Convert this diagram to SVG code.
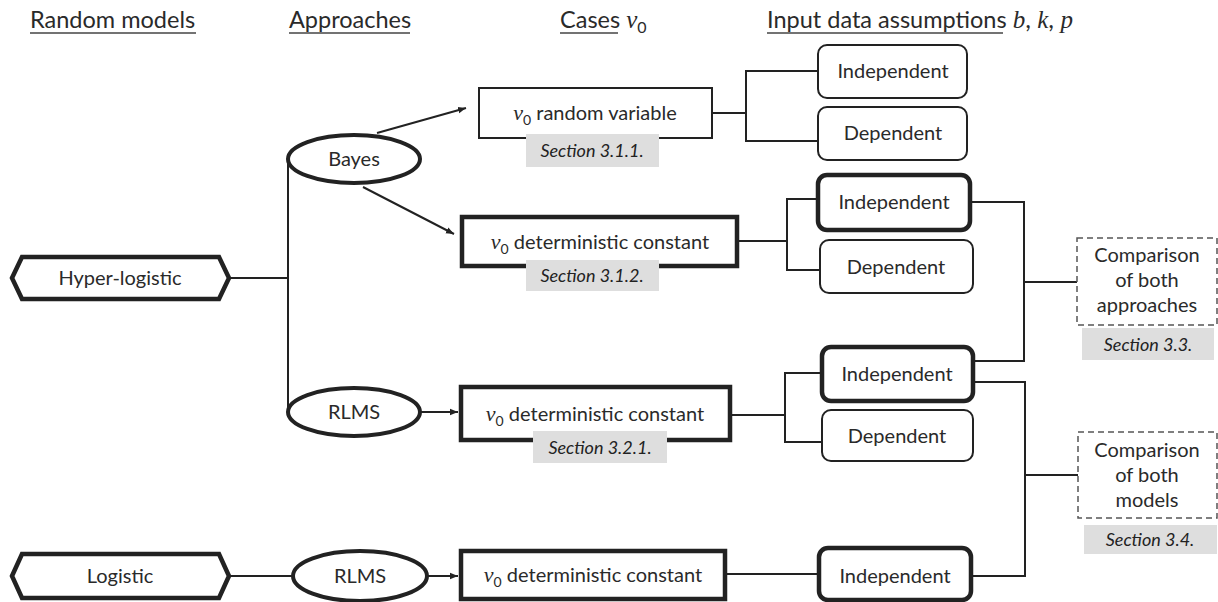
<svg xmlns="http://www.w3.org/2000/svg" width="1218" height="602" viewBox="0 0 1218 602">
<defs>
<marker id="arr" viewBox="0 0 10 10" refX="10" refY="5" markerWidth="8" markerHeight="8" markerUnits="userSpaceOnUse" orient="auto">
<path d="M0,1 L10,5 L0,9 z" fill="#222"/>
</marker>
</defs>
<style>
text{font-family:Lato,"Open Sans","Liberation Sans",sans-serif;fill:#2a2a2a}
.hdr{font-size:23.5px}
.ul{stroke:#444;stroke-width:1.5}
.lbl{font-size:20px;text-anchor:middle}
.sec{font-size:18px;font-style:italic;text-anchor:middle;fill:#222}
.m{font-family:"Liberation Serif","DejaVu Serif",serif;font-style:italic}
.hm{font-size:25px}
.sub{font-size:14px}
.hsub{font-size:16px}
.thin{fill:#fff;stroke:#222;stroke-width:2}
.thick{fill:#fff;stroke:#222;stroke-width:4.5}
.ell{fill:#fff;stroke:#222;stroke-width:4}
.dash{fill:#fff;stroke:#555;stroke-width:1.5;stroke-dasharray:6 4}
.gray{fill:#dedede}
.c{fill:none;stroke:#222;stroke-width:2}
</style>

<g id="headers">
<text class="hdr" x="30" y="28">Random models</text>
<line class="ul" x1="30" y1="33" x2="196" y2="33"/>
<text class="hdr" x="289" y="28">Approaches</text>
<line class="ul" x1="289" y1="33" x2="410" y2="33"/>
<text class="hdr" x="560" y="28">Cases <tspan class="m hm">v</tspan><tspan class="hsub" dy="5">0</tspan></text>
<line class="ul" x1="560" y1="33" x2="618" y2="33"/>
<text class="hdr" x="767" y="28">Input data assumptions <tspan class="m hm">b</tspan><tspan class="hm">, </tspan><tspan class="m hm">k</tspan><tspan class="hm">, </tspan><tspan class="m hm">p</tspan></text>
<line class="ul" x1="767" y1="33" x2="1003" y2="33"/>
</g>

<g id="connectors">
<line class="c" x1="229" y1="278" x2="288" y2="278"/>
<line class="c" x1="288" y1="159" x2="288" y2="412"/>
<line class="c" x1="377" y1="133" x2="466" y2="108" marker-end="url(#arr)"/>
<line class="c" x1="363" y1="187" x2="454" y2="234" marker-end="url(#arr)"/>
<line class="c" x1="421" y1="412" x2="458" y2="412" marker-end="url(#arr)"/>
<line class="c" x1="229" y1="576" x2="293" y2="576"/>
<line class="c" x1="427" y1="576" x2="458" y2="576" marker-end="url(#arr)"/>
<polyline class="c" points="712,113 746,113"/>
<polyline class="c" points="818,71 746,71 746,141 818,141"/>
<polyline class="c" points="737,241 787,241"/>
<polyline class="c" points="818,199 787,199 787,270 820,270"/>
<polyline class="c" points="730,415 785,415"/>
<polyline class="c" points="822,373 785,373 785,442 822,442"/>
<polyline class="c" points="725,574 819,574"/>
<polyline class="c" points="972,202 1024,202 1024,361 973,361"/>
<polyline class="c" points="1024,282 1077,282"/>
<polyline class="c" points="973,382 1025,382 1025,576 971,576"/>
<polyline class="c" points="1025,475 1078,475"/>
</g>

<g id="hyperlogistic">
<polygon class="thick" points="12,278 22,257 219,257 229,278 219,299 22,299"/>
<text class="lbl" x="120" y="285">Hyper-logistic</text>
</g>
<g id="logistic">
<polygon class="thick" points="12,576 22,554 219,554 229,576 219,598 22,598"/>
<text class="lbl" x="120" y="583">Logistic</text>
</g>

<g id="bayes">
<ellipse class="ell" cx="354" cy="159" rx="66" ry="24"/>
<text class="lbl" x="354" y="166">Bayes</text>
</g>
<g id="rlms1">
<ellipse class="ell" cx="354" cy="412" rx="66" ry="24"/>
<text class="lbl" x="354" y="419">RLMS</text>
</g>
<g id="rlms2">
<ellipse class="ell" cx="360" cy="576" rx="67" ry="25"/>
<text class="lbl" x="360" y="583">RLMS</text>
</g>

<g id="case-random">
<rect class="thin" x="479" y="88" width="233" height="50"/>
<text class="lbl" x="595" y="120"><tspan class="m" font-size="22">v</tspan><tspan class="sub" dy="5">0</tspan><tspan dy="-5"> random variable</tspan></text>
<rect class="gray" x="526" y="134" width="133" height="33"/>
<text class="sec" x="592" y="157">Section 3.1.1.</text>
</g>
<g id="case-bayes-det">
<rect class="thick" x="462" y="217" width="275" height="49"/>
<text class="lbl" x="600" y="249"><tspan class="m" font-size="22">v</tspan><tspan class="sub" dy="5">0</tspan><tspan dy="-5"> deterministic constant</tspan></text>
<rect class="gray" x="526" y="260" width="133" height="31"/>
<text class="sec" x="592" y="282">Section 3.1.2.</text>
</g>
<g id="case-rlms-det">
<rect class="thick" x="461" y="387" width="269" height="53"/>
<text class="lbl" x="595" y="421"><tspan class="m" font-size="22">v</tspan><tspan class="sub" dy="5">0</tspan><tspan dy="-5"> deterministic constant</tspan></text>
<rect class="gray" x="533" y="431" width="134" height="32"/>
<text class="sec" x="600" y="454">Section 3.2.1.</text>
</g>
<g id="case-logistic-det">
<rect class="thick" x="461" y="551" width="264" height="48"/>
<text class="lbl" x="593" y="582"><tspan class="m" font-size="22">v</tspan><tspan class="sub" dy="5">0</tspan><tspan dy="-5"> deterministic constant</tspan></text>
</g>

<g id="ind1"><rect class="thin" x="818" y="45" width="149" height="53" rx="9"/><text class="lbl" x="893" y="78">Independent</text></g>
<g id="dep1"><rect class="thin" x="818" y="107" width="149" height="53" rx="9"/><text class="lbl" x="893" y="140">Dependent</text></g>
<g id="ind2"><rect class="thick" x="818" y="175" width="152" height="55" rx="9"/><text class="lbl" x="894" y="209">Independent</text></g>
<g id="dep2"><rect class="thin" x="820" y="240" width="153" height="53" rx="9"/><text class="lbl" x="896" y="274">Dependent</text></g>
<g id="ind3"><rect class="thick" x="822" y="347" width="151" height="54" rx="9"/><text class="lbl" x="897" y="381">Independent</text></g>
<g id="dep3"><rect class="thin" x="822" y="410" width="151" height="51" rx="9"/><text class="lbl" x="897" y="443">Dependent</text></g>
<g id="ind4"><rect class="thick" x="819" y="548" width="152" height="52" rx="9"/><text class="lbl" x="895" y="583">Independent</text></g>

<g id="cmp-approaches">
<rect class="dash" x="1077" y="238" width="140" height="87"/>
<text class="lbl" x="1147" y="262">Comparison</text>
<text class="lbl" x="1147" y="287">of both</text>
<text class="lbl" x="1147" y="312">approaches</text>
<rect class="gray" x="1082" y="328" width="132" height="32"/>
<text class="sec" x="1148" y="351">Section 3.3.</text>
</g>
<g id="cmp-models">
<rect class="dash" x="1078" y="432" width="139" height="86"/>
<text class="lbl" x="1147" y="457">Comparison</text>
<text class="lbl" x="1147" y="482">of both</text>
<text class="lbl" x="1147" y="507">models</text>
<rect class="gray" x="1084" y="525" width="133" height="29"/>
<text class="sec" x="1150" y="546">Section 3.4.</text>
</g>
</svg>
